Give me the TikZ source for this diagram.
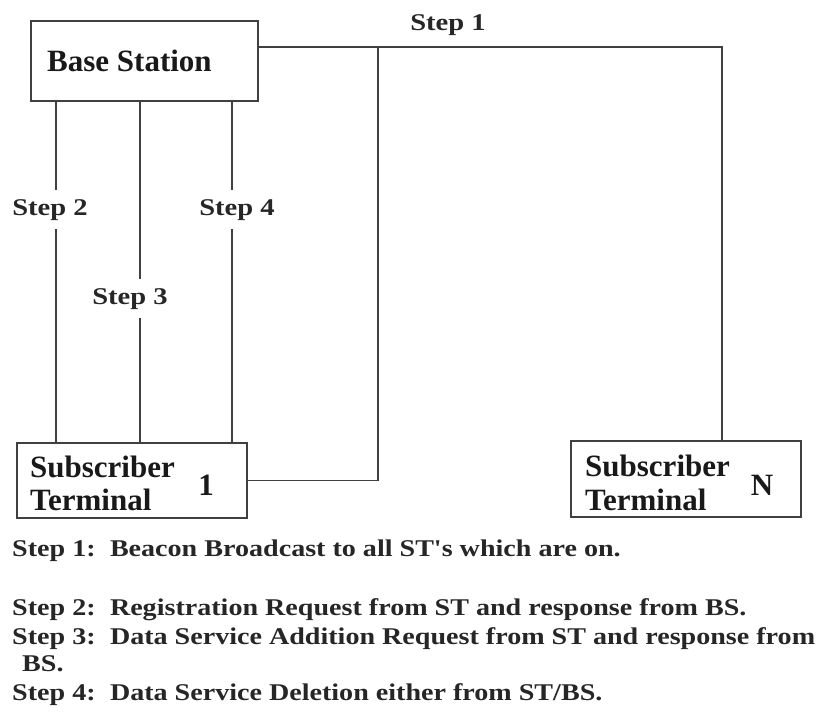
\documentclass[tikz,border=0pt]{standalone}
\usepackage{fontspec}
\setmainfont{Liberation Serif}
\newfontfamily\stepfont[FakeStretch=1.19]{Liberation Serif}
\newfontfamily\notefont[FakeStretch=1.17]{Liberation Serif}
\newcommand\colgap{:\hspace{5pt} }
\tikzset{
  wire/.style={draw=black!75, line width=1.4pt},
  unit/.style={draw=black!75, line width=1.4pt, rectangle, inner sep=0pt},
  unittext/.style={font=\fontsize{31}{33}\selectfont\bfseries, text=black!90, inner sep=0pt, align=left},
  steplabel/.style={font=\stepfont\fontsize{24}{26}\selectfont\bfseries, text=black!85, fill=white, inner xsep=2pt, inner ysep=9pt},
  note/.style={font=\notefont\fontsize{24}{26}\selectfont\bfseries, text=black!85, inner sep=0pt, anchor=base west}
}
\begin{document}
\begin{tikzpicture}[x=1pt,y=-1pt]
\useasboundingbox (0,0) rectangle (822,727);

% units
\node[unit, minimum width=227pt, minimum height=80pt] (bs) at (144.5,61) {};
\node[unit, minimum width=230pt, minimum height=75pt] (st1) at (132,480.5) {};
\node[unit, minimum width=230pt, minimum height=76pt] (stn) at (686,479) {};

% unit captions
\node[unittext, anchor=base west] (bstext) at (47,72) {Base Station};
\node[unittext, anchor=base west] (st1a) at (30,477) {Subscriber};
\node[unittext, anchor=base west] (st1b) at (30,510) {Terminal};
\node[unittext] (st1n) at (206,485) {1};
\node[unittext, anchor=base west] (stna) at (585,476) {Subscriber};
\node[unittext, anchor=base west] (stnb) at (585,510) {Terminal};
\node[unittext] (stnn) at (762,485) {N};

% step 1: broadcast from the base station to every terminal
\coordinate (j) at (378,47);
\coordinate (c1) at (722,47);
\draw[wire] (bs.east |- j) -- (c1) -- (c1 |- stn.north);
\draw[wire] (j) |- (st1.east);

% steps 2-4: base station <-> terminal 1
\coordinate (x2) at (56,0);
\coordinate (x3) at (140,0);
\coordinate (x4) at (232,0);
\draw[wire] (x2 |- bs.south) -- (x2 |- st1.north);
\draw[wire] (x3 |- bs.south) -- (x3 |- st1.north);
\draw[wire] (x4 |- bs.south) -- (x4 |- st1.north);

\node[steplabel] (l1) at (448,25) {Step 1};
\node[steplabel] (l2) at (50,210) {Step 2};
\node[steplabel] (l3) at (130,299) {Step 3};
\node[steplabel] (l4) at (237,210) {Step 4};

% legend
\node[note] (n1) at (12,556) {Step 1\colgap Beacon Broadcast to all ST's which are on.};
\node[note] (n2) at (12,615) {Step 2\colgap Registration Request from ST and response from BS.};
\node[note] (n3) at (12,644) {Step 3\colgap Data Service Addition Request from ST and response from};
\node[note] (n3b) at (22,671) {BS.};
\node[note] (n4) at (12,700) {Step 4\colgap Data Service Deletion either from ST/BS.};
\end{tikzpicture}
\end{document}
